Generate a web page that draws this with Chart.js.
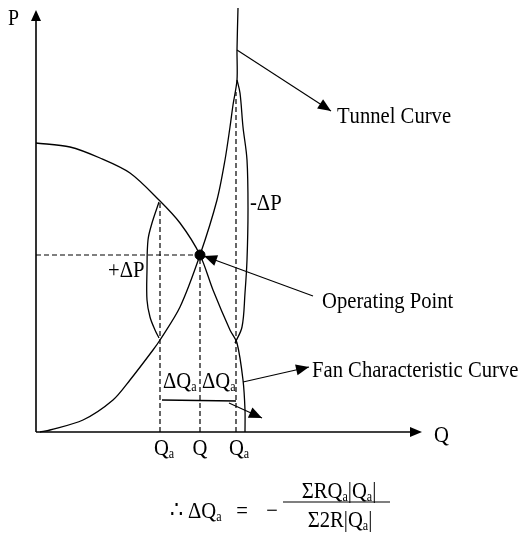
<!DOCTYPE html>
<html>
<head>
<meta charset="utf-8">
<script src="https://cdn.jsdelivr.net/npm/chart.js@4/dist/chart.umd.min.js"></script>
<style>
html, body { margin: 0; padding: 0; background: #fff; }
#wrap { width: 521px; height: 539px; }
</style>
</head>
<body>
<div id="wrap"><canvas id="chart"></canvas></div>
<script>
// Q to the right, P upwards, origin at the corner of the axes
var tunnelQ = [4, 14, 47, 77, 94, 117, 124, 144, 164, 181, 189, 194, 197, 201, 201, 202];
var tunnelP = [0, 2, 12, 32, 52, 82, 92, 125, 177, 232, 272, 305, 327, 352, 382, 424];

var fanQ = [0, 34, 64, 94, 123, 144, 164, 177, 194, 201, 207, 209, 209];
var fanP = [289, 285, 274, 259, 232, 209, 177, 142, 102, 89, 52, 22, 0];

// +dP loop (left) and -dP loop (right)
var plusQ = [123, 116, 112, 111, 111, 114, 119, 123];
var plusP = [230, 209, 192, 162, 132, 115, 102, 94];
var minusQ = [201, 204, 207, 211, 212, 211, 209, 206, 199];
var minusP = [352, 339, 305, 272, 222, 172, 139, 105, 89];

// operating point and the two Qa values
var opQ = 164, opP = 177;
var qaLeft = 124, qaRight = 200;
var qaLeftTop = 230, qaRightTop = 340;

// label arrows: start -> tip
var arrowNames = ['tunnel', 'operating', 'fan', 'dq'];
var arrowFrom = [[201, 382], [277, 136], [207, 50], [193, 29]];
var arrowTo = [[295, 321], [168, 176], [273, 65], [226, 14]];

var axisQmax = 386, axisPmax = 422;

function pts(qs, ps) {
    var out = [];
    for (var i = 0; i < qs.length; i++) out.push({x: qs[i], y: ps[i]});
    return out;
}

function line(data, extra) {
    var ds = {
        data: data, showLine: true, borderColor: '#000', borderWidth: 1.3,
        pointRadius: 0, fill: false, tension: 0
    };
    for (var k in extra) ds[k] = extra[k];
    return ds;
}

var dash = {borderDash: [5, 3], borderWidth: 1.2};

var datasets = [
    line([{x: 0, y: 0}, {x: 0, y: axisPmax - 10}], {borderWidth: 1.6}),
    line([{x: 0, y: 0}, {x: axisQmax - 10, y: 0}], {borderWidth: 1.6}),
    line(pts(tunnelQ, tunnelP), {tension: 0.3}),
    line(pts(fanQ, fanP), {tension: 0.3}),
    line(pts(plusQ, plusP), {tension: 0.35}),
    line(pts(minusQ, minusP), {tension: 0.35}),
    line([{x: 0, y: opP}, {x: opQ, y: opP}], dash),
    line([{x: qaLeft, y: 0}, {x: qaLeft, y: qaLeftTop}], dash),
    line([{x: opQ, y: 0}, {x: opQ, y: opP}], dash),
    line([{x: qaRight, y: 0}, {x: qaRight, y: qaRightTop}], dash),
    // underline below the two dQa
    line([{x: 126, y: 32}, {x: 200, y: 31}])
];
for (var a = 0; a < arrowNames.length; a++) {
    datasets.push(line([{x: arrowFrom[a][0], y: arrowFrom[a][1]}, {x: arrowTo[a][0], y: arrowTo[a][1]}], {borderWidth: 1.1}));
}
datasets.push({
    data: [{x: opQ, y: opP}], showLine: false, pointRadius: 5,
    pointBackgroundColor: '#000', pointBorderColor: '#000'
});

// text: '_x' puts x as a subscript
var notes = [
    {t: 'P', q: -28, p: 407, size: 23},
    {t: 'Q', q: 398, p: -10},
    {t: 'Q_a', q: 128, p: -23, align: 'center'},
    {t: 'Q', q: 164, p: -23, align: 'center'},
    {t: 'Q_a', q: 203, p: -23, align: 'center'},
    {t: 'Tunnel Curve', q: 301, p: 309},
    {t: 'Operating Point', q: 286, p: 124},
    {t: 'Fan Characteristic Curve', q: 276, p: 55},
    {t: '-ΔP', q: 214, p: 222},
    {t: '+ΔP', q: 72, p: 155},
    {t: 'ΔQ_a', q: 127, p: 44},
    {t: 'ΔQ_a', q: 166, p: 44},
    {t: '∴ ΔQ_a', q: 134, p: -86},
    {t: '=', q: 206, p: -86, align: 'center'},
    {t: '−', q: 236, p: -86, align: 'center'},
    {t: 'ΣRQ_a|Q_a|', q: 303, p: -66, align: 'center'},
    {t: 'Σ2R|Q_a|', q: 304, p: -95, align: 'center'}
];
var fracFrom = 247, fracTo = 354, fracP = -70;

var FONT = '"Liberation Serif", "DejaVu Serif", serif';
var SX = 0.86;

function parts(str) {
    var out = [];
    for (var i = 0; i < str.length; i++) {
        if (str[i] == '_') { out.push({c: str[i + 1], sub: true}); i++; }
        else out.push({c: str[i], sub: false});
    }
    return out;
}

function drawRich(ctx, x, y, str, size, align) {
    var ps = parts(str);
    var w = 0;
    ps.forEach(function(p) {
        ctx.font = (p.sub ? Math.round(size * 0.58) : size) + 'px ' + FONT;
        p.w = ctx.measureText(p.c).width * SX;
        w += p.w;
    });
    var cx = align == 'center' ? x - w / 2 : x;
    ps.forEach(function(p) {
        ctx.font = (p.sub ? Math.round(size * 0.58) : size) + 'px ' + FONT;
        ctx.save();
        ctx.translate(cx, y + (p.sub ? 3 : 0));
        ctx.scale(SX, 1);
        ctx.fillText(p.c, 0, 0);
        ctx.restore();
        cx += p.w;
    });
}

function head(ctx, fx, fy, tx, ty, len, half) {
    var dx = tx - fx, dy = ty - fy;
    var d = Math.sqrt(dx * dx + dy * dy);
    var ux = dx / d, uy = dy / d;
    var bx = tx - ux * len, by = ty - uy * len;
    ctx.beginPath();
    ctx.moveTo(tx, ty);
    ctx.lineTo(bx - uy * half, by + ux * half);
    ctx.lineTo(bx + uy * half, by - ux * half);
    ctx.closePath();
    ctx.fill();
}

var extras = {
    id: 'extras',
    afterDatasetsDraw: function(chart) {
        var ctx = chart.ctx;
        var xs = chart.scales.x, ys = chart.scales.y;
        function X(q) { return xs.getPixelForValue(q); }
        function Y(p) { return ys.getPixelForValue(p); }
        ctx.save();
        ctx.fillStyle = '#000';
        ctx.strokeStyle = '#000';

        // axis arrowheads
        head(ctx, X(0), Y(0), X(0), Y(axisPmax), 11, 5);
        head(ctx, X(0), Y(0), X(axisQmax), Y(0), 12, 5);

        for (var i = 0; i < arrowNames.length; i++) {
            head(ctx, X(arrowFrom[i][0]), Y(arrowFrom[i][1]), X(arrowTo[i][0]), Y(arrowTo[i][1]), 13, 5.5);
        }

        ctx.textBaseline = 'alphabetic';
        ctx.textAlign = 'left';
        notes.forEach(function(n) {
            drawRich(ctx, X(n.q), Y(n.p), n.t, n.size || 24, n.align);
        });

        // fraction bar
        ctx.lineWidth = 1.2;
        ctx.beginPath();
        ctx.moveTo(X(fracFrom), Y(fracP));
        ctx.lineTo(X(fracTo), Y(fracP));
        ctx.stroke();
        ctx.restore();
    }
};

new Chart(document.getElementById('chart'), {
    type: 'scatter',
    data: {datasets: datasets},
    options: {
        responsive: true,
        maintainAspectRatio: false,
        animation: false,
        layout: {padding: 0, autoPadding: false},
        plugins: {legend: {display: false}, tooltip: {enabled: false}},
        scales: {
            x: {type: 'linear', min: -36, max: 485, display: false},
            y: {type: 'linear', min: -107, max: 432, display: false}
        }
    },
    plugins: [extras]
});
</script>
</body>
</html>
